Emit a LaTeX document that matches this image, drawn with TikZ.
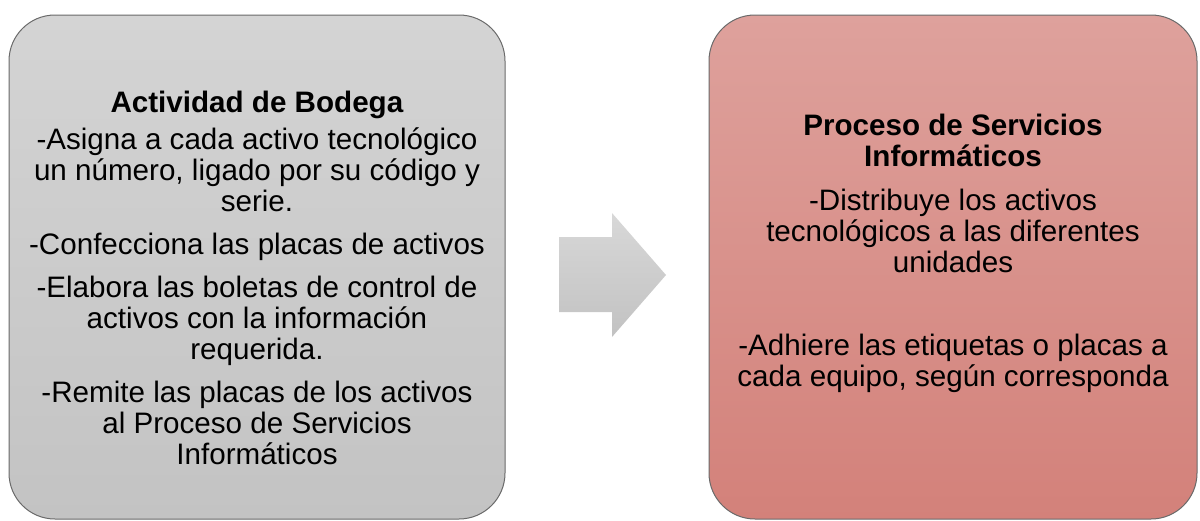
\documentclass[tikz,border=0pt]{standalone}
\usepackage{fontspec}
\setmainfont{Liberation Sans}
\definecolor{greytop}{HTML}{D4D4D4}
\definecolor{greybot}{HTML}{C3C3C3}
\definecolor{redtop}{HTML}{DEA19C}
\definecolor{redbot}{HTML}{D3817A}
\definecolor{edge}{HTML}{6A6A6A}
\definecolor{arrtop}{HTML}{D8D8D8}
\definecolor{arrbot}{HTML}{C2C2C2}
\tikzset{
  panel/.style={rectangle, rounded corners=23pt, draw=edge, line width=0.5pt, inner sep=0pt},
  greypanel/.style={panel, top color=greytop, bottom color=greybot},
  redpanel/.style={panel, top color=redtop, bottom color=redbot},
  body/.style={align=center, inner sep=0pt, font=\fontsize{14.8pt}{15.5pt}\selectfont},
  flowarrow/.style={top color=arrtop, bottom color=arrbot, draw=none}
}
\begin{document}
\begin{tikzpicture}[x=0.5pt,y=-0.5pt]
\useasboundingbox (0,0) rectangle (1200,520);
\node[greypanel, minimum width=248pt, minimum height=252pt] (left) at (257,267) {};
\node[redpanel, minimum width=244pt, minimum height=252pt] (right) at (953,267) {};
\node[body] (lefttext) at (257,278) {\textbf{Actividad de Bodega}\\[3pt]
-Asigna a cada activo tecnológico\\
un número, ligado por su código y\\
serie.\\[6pt]
-Confecciona las placas de activos\\[6pt]
-Elabora las boletas de control de\\
activos con la información\\
requerida.\\[6pt]
-Remite las placas de los activos\\
al Proceso de Servicios\\
Informáticos};
\node[body] (righttext) at (953,253) {\textbf{Proceso de Servicios}\\
\textbf{Informáticos}\\[6.5pt]
-Distribuye los activos\\
tecnológicos a las diferentes\\
unidades\\[26pt]
-Adhiere las etiquetas o placas a\\
cada equipo, según corresponda};
\coordinate (a1) at (559,237);
\coordinate (a2) at (612,237);
\coordinate (a3) at (612,213);
\coordinate (a4) at (666,275);
\coordinate (a5) at (612,337);
\coordinate (a6) at (612,312);
\coordinate (a7) at (559,312);
\path[flowarrow] (a1) -- (a2) -- (a3) -- (a4) -- (a5) -- (a6) -- (a7) -- cycle;
\end{tikzpicture}
\end{document}
